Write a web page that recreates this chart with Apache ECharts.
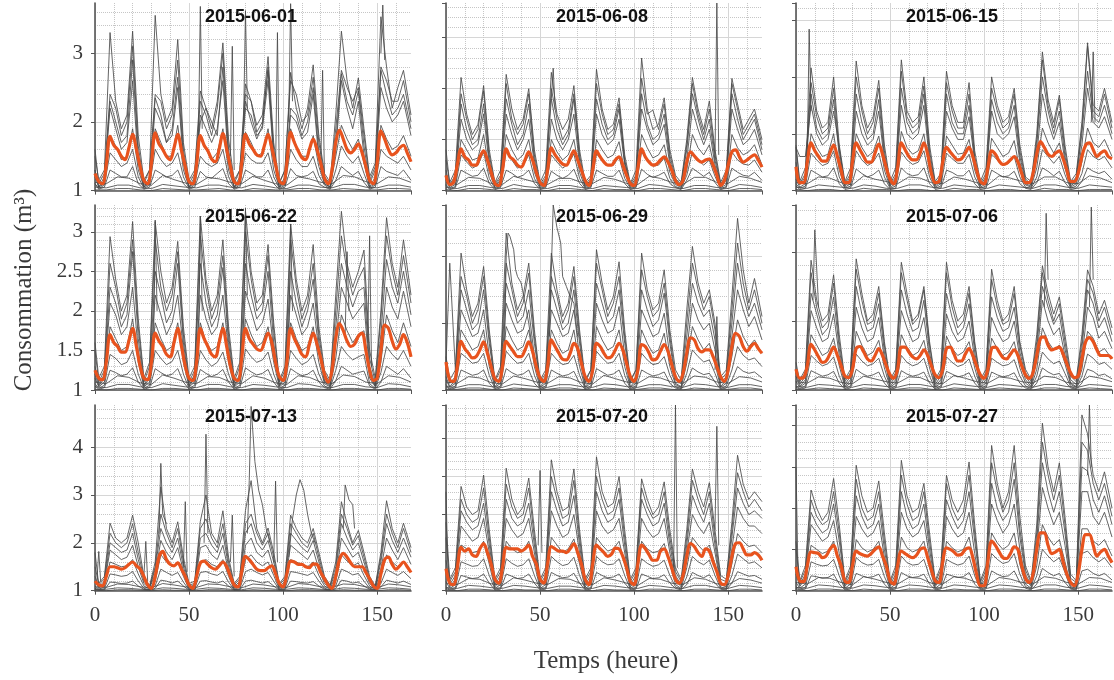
<!DOCTYPE html>
<html><head><meta charset="utf-8">
<script src="https://cdn.jsdelivr.net/npm/echarts@6/dist/echarts.min.js"></script>
<style>html,body{margin:0;padding:0;background:#fff}#c{width:1114px;height:680px}</style>
</head><body><div id="c"></div>
<script>
// ---------- shared x samples (hours) ----------
const hoursMean = [0,2,4,6,8,10,12,14,16,18,20,22,24,26,28,30,32,34,36,38,40,42,44,46,48,50,52,54,56,58,60,62,64,66,68,70,72,74,76,78,80,82,84,86,88,90,92,94,96,98,100,102,104,106,108,110,112,114,116,118,120,122,124,126,128,130,132,134,136,138,140,142,144,146,148,150,152,154,156,158,160,162,164,166,168];
const hoursGray = [0,2,5,8,11,14,17,20,23,26,29,32,35,38,41,44,47,50,53,56,59,62,65,68,71,74,77,80,83,86,89,92,95,98,101,104,107,110,113,116,119,122,125,128,131,134,137,140,143,146,149,152,155,158,161,164,168];
const hoursLow = [0,6,12,18,24,30,36,42,48,54,60,66,72,78,84,90,96,102,108,114,120,126,132,138,144,150,156,162,168];

const titles = ['2015-06-01','2015-06-08','2015-06-15','2015-06-22','2015-06-29','2015-07-06','2015-07-13','2015-07-20','2015-07-27'];
const yMax  = [3.73, 2.84, 2.65, 3.34, 3.77, 3.68, 4.88, 3.44, 3.25];
const yStep = [1, 0.5, 0.5, 0.5, 1, 1, 1, 0.5, 0.5];
const xTicks = [0, 50, 100, 150];

// ---------- Panel 1 : 2015-06-01 ----------
const p1Mean = [1.25,1.13,1.1,1.38,1.79,1.66,1.6,1.5,1.45,1.62,1.82,1.6, 1.35,1.15,1.1,1.4,1.84,1.68,1.6,1.5,1.45,1.62,1.82,1.58, 1.35,1.13,1.1,1.38,1.8,1.66,1.58,1.46,1.42,1.6,1.83,1.6, 1.35,1.13,1.1,1.4,1.82,1.68,1.6,1.52,1.5,1.65,1.82,1.62, 1.38,1.14,1.1,1.4,1.85,1.7,1.58,1.48,1.45,1.6,1.75,1.6, 1.4,1.18,1.1,1.3,1.7,1.88,1.75,1.6,1.55,1.6,1.68,1.55, 1.35,1.15,1.1,1.4,1.87,1.75,1.6,1.52,1.55,1.62,1.66,1.55, 1.42];
const p1Gray = [
 [1.5,1.15,1.3,3.3,2.3,1.9,2.1,3.32,1.8, 1.15,1.3,3.55,2.4,2.0,2.2,3.2,1.7, 1.15,1.3,2.45,2.2,1.9,2.3,3.15,1.75, 1.15,1.3,2.55,2.3,1.95,2.1,2.95,1.7, 1.12,1.3,2.72,2.2,1.9,2.2,2.83,1.8, 1.25,1.12,2.1,3.32,2.6,2.2,2.64,1.9, 1.2,1.4,3.53,2.8,2.2,2.5,2.75,2.1],
 [1.6,1.1,1.25,2.4,2.2,1.8,2.0,3.1,1.65, 1.1,1.3,2.4,2.3,1.9,2.1,2.9,1.6, 1.1,1.25,2.3,2.1,1.8,2.2,3.0,1.6, 1.1,1.3,2.4,2.3,1.85,2.0,2.75,1.6, 1.1,1.3,2.6,2.4,2.0,2.1,2.65,1.7, 1.2,1.1,1.9,2.75,2.5,2.3,2.5,1.8, 1.15,1.35,2.8,2.6,2.3,2.3,2.6,2.0],
 [1.3,1.05,1.2,2.3,2.0,1.7,1.8,2.9,1.5, 1.05,1.2,2.35,2.1,1.7,1.9,2.65,1.5, 1.05,1.2,2.0,2.2,2.0,1.8,2.8,1.5, 1.05,1.2,2.3,2.0,1.75,1.95,2.8,1.5, 1.05,1.2,2.2,2.1,1.8,2.0,2.5,1.55, 1.15,1.05,1.7,2.7,2.3,2.1,2.45,1.65, 1.1,1.3,2.75,2.4,2.1,2.2,2.4,1.9],
 [1.2,1.05,1.15,2.2,1.9,1.6,1.7,2.6,1.4, 1.05,1.15,2.2,2.0,1.7,1.8,2.5,1.4, 1.05,1.15,2.1,1.9,1.7,1.9,2.6,1.4, 1.05,1.15,2.2,2.1,1.8,1.9,2.6,1.45, 1.05,1.15,2.1,2.0,1.75,1.85,2.4,1.45, 1.1,1.05,1.6,2.6,2.2,1.9,2.3,1.5, 1.05,1.2,2.5,2.2,2.0,2.1,2.3,1.8],
 [1.3,1.05,1.1,1.8,1.65,1.45,1.5,1.9,1.3, 1.05,1.1,1.9,1.7,1.5,1.5,1.95,1.3, 1.05,1.1,1.8,1.6,1.45,1.55,1.9,1.3, 1.05,1.1,1.85,1.7,1.5,1.55,1.9,1.3, 1.05,1.1,1.9,1.65,1.5,1.5,1.8,1.35, 1.1,1.05,1.5,1.95,1.75,1.6,1.75,1.4, 1.05,1.1,1.95,1.75,1.6,1.65,1.8,1.5],
 [1.1,1.03,1.08,1.55,1.45,1.35,1.4,1.6,1.2, 1.03,1.08,1.6,1.45,1.35,1.4,1.55,1.2, 1.03,1.08,1.5,1.4,1.35,1.4,1.6,1.2, 1.03,1.08,1.55,1.45,1.4,1.4,1.55,1.2, 1.03,1.08,1.6,1.45,1.35,1.35,1.5,1.22, 1.08,1.03,1.3,1.65,1.5,1.4,1.5,1.25, 1.03,1.08,1.6,1.5,1.45,1.4,1.5,1.3],
 [1.1,1.02,1.05,1.3,1.25,1.2,1.2,1.35,1.1, 1.02,1.05,1.3,1.25,1.2,1.22,1.3,1.1, 1.02,1.05,1.28,1.2,1.18,1.25,1.32,1.1, 1.02,1.05,1.3,1.25,1.2,1.2,1.3,1.1, 1.02,1.05,1.32,1.22,1.2,1.22,1.28,1.1, 1.05,1.02,1.15,1.35,1.28,1.22,1.28,1.12, 1.02,1.05,1.35,1.28,1.25,1.22,1.3,1.15]
];
const p1Low = [
 [1.12,1.1,1.2,1.18, 1.1,1.08,1.22,1.16, 1.11,1.09,1.19,1.17, 1.12,1.1,1.21,1.15, 1.1,1.08,1.2,1.17, 1.12,1.1,1.22,1.2, 1.13,1.1,1.2,1.18, 1.12],
 [1.05,1.04,1.08,1.08, 1.04,1.03,1.09,1.07, 1.05,1.04,1.08,1.08, 1.05,1.04,1.09,1.07, 1.04,1.03,1.08,1.08, 1.05,1.04,1.09,1.09, 1.05,1.04,1.08,1.08, 1.05],
 [1.01,1.01,1.03,1.03, 1.01,1.0,1.03,1.02, 1.01,1.01,1.02,1.03, 1.01,1.0,1.03,1.02, 1.01,1.01,1.03,1.03, 1.01,1.01,1.03,1.02, 1.01,1.01,1.03,1.03, 1.02]
];
const p1Spikes = [
 [[55,1.8],[56,3.68],[57,1.9]], [[72,1.5],[73,3.1],[74,1.3]], [[79,2.0],[80,3.62],[81,2.2]], [[96,1.3],[97,3.3],[98,1.2]],
 [[103,2.0],[104,3.72],[105,2.3]], [[120,1.3],[121,2.75],[122,1.2]], [[152,3.0],[153,3.7],[154,2.9]]
];

// ---------- Panel 2 : 2015-06-08 ----------
const p2Mean = [1.15,1.06,1.08,1.25,1.41,1.33,1.3,1.25,1.25,1.33,1.39,1.3, 1.18,1.07,1.05,1.2,1.41,1.33,1.3,1.25,1.23,1.3,1.38,1.3, 1.18,1.08,1.05,1.2,1.42,1.35,1.3,1.26,1.25,1.32,1.39,1.3, 1.2,1.1,1.05,1.2,1.39,1.33,1.28,1.25,1.25,1.3,1.33,1.25, 1.15,1.07,1.05,1.22,1.41,1.33,1.28,1.25,1.26,1.3,1.33,1.28, 1.2,1.1,1.06,1.1,1.28,1.38,1.34,1.3,1.28,1.3,1.31,1.25, 1.15,1.05,1.1,1.25,1.38,1.4,1.33,1.28,1.3,1.33,1.35,1.3, 1.23];
const p2Gray = [
 [1.3,1.08,1.2,2.11,1.75,1.55,1.65,2.03,1.4, 1.08,1.2,2.14,1.8,1.6,1.7,2.0,1.4, 1.08,1.2,2.16,1.75,1.6,1.7,2.03,1.4, 1.08,1.15,2.19,1.8,1.6,1.65,1.91,1.35, 1.07,1.2,2.3,1.8,1.6,1.65,1.91,1.4, 1.15,1.08,1.5,2.11,1.8,1.6,1.88,1.4, 1.08,1.2,2.1,1.85,1.6,1.7,1.8,1.5],
 [1.4,1.06,1.15,1.95,1.7,1.5,1.6,1.98,1.35, 1.06,1.15,2.05,1.7,1.55,1.65,1.95,1.35, 1.06,1.15,2.0,1.7,1.5,1.6,1.95,1.35, 1.06,1.12,2.05,1.75,1.55,1.6,1.85,1.3, 1.06,1.15,2.1,1.75,1.79,1.6,1.85,1.35, 1.12,1.06,1.45,2.05,1.75,1.55,1.8,1.35, 1.06,1.15,2.05,1.8,1.55,1.65,1.75,1.45],
 [1.2,1.05,1.12,1.85,1.6,1.45,1.5,1.85,1.3, 1.05,1.12,1.9,1.65,1.45,1.55,1.85,1.3, 1.05,1.12,1.9,1.6,1.45,1.55,1.9,1.3, 1.05,1.1,1.9,1.65,1.5,1.55,1.8,1.28, 1.05,1.12,1.95,1.65,1.5,1.55,1.75,1.3, 1.1,1.05,1.4,1.95,1.7,1.5,1.7,1.3, 1.05,1.12,1.95,1.7,1.5,1.6,1.7,1.4],
 [1.15,1.04,1.1,1.7,1.5,1.4,1.45,1.75,1.25, 1.04,1.1,1.75,1.55,1.4,1.5,1.7,1.25, 1.04,1.1,1.7,1.5,1.4,1.5,1.75,1.25, 1.04,1.08,1.75,1.55,1.45,1.5,1.7,1.25, 1.04,1.1,1.8,1.6,1.45,1.5,1.65,1.25, 1.08,1.04,1.3,1.8,1.6,1.45,1.6,1.25, 1.04,1.1,1.8,1.6,1.45,1.5,1.6,1.35],
 [1.1,1.03,1.06,1.5,1.4,1.3,1.32,1.55,1.18, 1.03,1.06,1.55,1.4,1.3,1.35,1.5,1.18, 1.03,1.06,1.5,1.38,1.3,1.35,1.5,1.18, 1.03,1.06,1.5,1.4,1.32,1.35,1.48,1.18, 1.03,1.06,1.55,1.42,1.32,1.35,1.45,1.18, 1.06,1.03,1.2,1.55,1.42,1.35,1.45,1.2, 1.03,1.06,1.55,1.42,1.35,1.38,1.45,1.25],
 [1.06,1.02,1.04,1.35,1.28,1.22,1.25,1.38,1.12, 1.02,1.04,1.38,1.3,1.22,1.25,1.35,1.12, 1.02,1.04,1.35,1.28,1.22,1.26,1.36,1.12, 1.02,1.04,1.36,1.3,1.25,1.25,1.33,1.12, 1.02,1.04,1.38,1.3,1.24,1.25,1.32,1.12, 1.04,1.02,1.15,1.38,1.3,1.25,1.3,1.14, 1.02,1.04,1.38,1.3,1.26,1.25,1.3,1.18],
 [1.05,1.01,1.03,1.2,1.17,1.14,1.15,1.22,1.07, 1.01,1.03,1.2,1.17,1.13,1.15,1.2,1.07, 1.01,1.03,1.19,1.15,1.12,1.15,1.21,1.07, 1.01,1.03,1.2,1.17,1.14,1.14,1.2,1.07, 1.01,1.03,1.21,1.16,1.13,1.15,1.18,1.07, 1.03,1.01,1.1,1.22,1.18,1.14,1.18,1.08, 1.01,1.03,1.22,1.18,1.15,1.14,1.18,1.1]
];
const p2Low = [
 [1.08,1.06,1.13,1.12, 1.07,1.06,1.14,1.11, 1.08,1.06,1.12,1.12, 1.08,1.07,1.13,1.11, 1.07,1.06,1.14,1.12, 1.08,1.06,1.13,1.13, 1.08,1.07,1.14,1.12, 1.08],
 [1.03,1.02,1.05,1.05, 1.03,1.02,1.06,1.04, 1.03,1.02,1.05,1.05, 1.03,1.02,1.05,1.04, 1.03,1.02,1.06,1.05, 1.03,1.02,1.05,1.05, 1.03,1.02,1.06,1.05, 1.03],
 [1.01,1.0,1.02,1.02, 1.01,1.0,1.02,1.01, 1.01,1.0,1.02,1.02, 1.01,1.0,1.02,1.01, 1.01,1.0,1.02,1.02, 1.01,1.0,1.02,1.02, 1.01,1.0,1.02,1.02, 1.01]
];
const p2Spikes = [ [[143,1.3],[144,2.84],[145,1.35]], [[56,1.9],[57,2.2],[58,1.8]] ];

// ---------- Panel 3 : 2015-06-15 ----------
const p3Mean = [1.21,1.07,1.07,1.25,1.42,1.35,1.3,1.26,1.26,1.33,1.4,1.3, 1.18,1.07,1.07,1.25,1.42,1.36,1.3,1.25,1.25,1.33,1.41,1.32, 1.2,1.1,1.06,1.2,1.42,1.36,1.3,1.27,1.27,1.33,1.42,1.32, 1.15,1.07,1.08,1.25,1.38,1.34,1.3,1.27,1.28,1.33,1.38,1.3, 1.18,1.08,1.06,1.2,1.35,1.32,1.26,1.23,1.24,1.27,1.3,1.25, 1.15,1.07,1.07,1.15,1.32,1.43,1.38,1.32,1.3,1.33,1.35,1.28, 1.18,1.08,1.08,1.15,1.3,1.4,1.42,1.36,1.3,1.33,1.35,1.3, 1.28];
const p3Gray = [
 [1.4,1.08,1.2,2.08,1.7,1.55,1.6,2.0,1.4, 1.08,1.2,2.14,1.75,1.55,1.65,1.97,1.4, 1.08,1.2,2.15,1.7,1.6,1.65,2.0,1.4, 1.08,1.15,2.05,1.75,1.6,1.6,1.95,1.35, 1.08,1.2,2.0,1.75,1.6,1.65,1.9,1.4, 1.12,1.08,1.5,2.22,1.8,1.6,1.84,1.4, 1.08,1.15,1.6,2.3,1.75,1.7,1.9,1.6],
 [1.38,1.06,1.15,1.95,1.65,1.5,1.55,1.9,1.35, 1.06,1.15,2.0,1.7,1.5,1.6,1.9,1.35, 1.06,1.15,2.05,1.65,1.55,1.6,1.92,1.35, 1.06,1.12,1.95,1.7,1.55,1.55,1.85,1.3, 1.06,1.15,1.9,1.7,1.55,1.6,1.85,1.35, 1.1,1.06,1.45,2.15,1.75,1.55,1.8,1.35, 1.06,1.12,1.55,2.27,1.7,1.65,1.85,1.55],
 [1.25,1.05,1.12,1.85,1.55,1.45,1.5,1.8,1.3, 1.05,1.12,1.85,1.6,1.45,1.5,1.8,1.3, 1.05,1.12,1.9,1.6,1.5,1.55,1.85,1.3, 1.05,1.1,1.85,1.6,1.5,1.5,1.75,1.28, 1.05,1.12,1.8,1.6,1.5,1.55,1.75,1.3, 1.08,1.05,1.4,2.0,1.7,1.5,1.7,1.3, 1.05,1.1,1.5,2.05,1.65,1.6,1.75,1.5],
 [1.38,1.3,1.3,1.75,1.5,1.4,1.45,1.7,1.38, 1.04,1.1,1.7,1.5,1.4,1.45,1.7,1.25, 1.04,1.1,1.75,1.5,1.45,1.5,1.75,1.25, 1.04,1.08,1.7,1.55,1.45,1.45,1.65,1.25, 1.04,1.1,1.7,1.5,1.45,1.5,1.65,1.25, 1.06,1.04,1.3,1.85,1.6,1.45,1.6,1.25, 1.04,1.08,1.4,1.9,1.6,1.55,1.65,1.45],
 [1.1,1.03,1.06,1.5,1.38,1.3,1.32,1.5,1.18, 1.03,1.06,1.5,1.38,1.3,1.34,1.48,1.18, 1.03,1.06,1.52,1.38,1.32,1.35,1.5,1.18, 1.03,1.06,1.48,1.4,1.32,1.33,1.45,1.18, 1.03,1.06,1.46,1.38,1.3,1.33,1.44,1.18, 1.05,1.03,1.2,1.55,1.42,1.33,1.42,1.2, 1.03,1.06,1.25,1.55,1.42,1.38,1.45,1.3],
 [1.06,1.02,1.04,1.33,1.27,1.22,1.24,1.35,1.12, 1.02,1.04,1.35,1.27,1.22,1.25,1.33,1.12, 1.02,1.04,1.34,1.27,1.23,1.25,1.35,1.12, 1.02,1.04,1.33,1.28,1.24,1.24,1.32,1.12, 1.02,1.04,1.32,1.27,1.22,1.24,1.3,1.12, 1.03,1.02,1.12,1.36,1.3,1.24,1.3,1.14, 1.02,1.04,1.15,1.36,1.3,1.27,1.3,1.2],
 [1.04,1.01,1.02,1.18,1.15,1.12,1.13,1.2,1.06, 1.01,1.02,1.19,1.15,1.12,1.14,1.18,1.06, 1.01,1.02,1.2,1.15,1.13,1.14,1.2,1.06, 1.01,1.02,1.18,1.16,1.13,1.13,1.18,1.06, 1.01,1.02,1.18,1.15,1.12,1.13,1.17,1.06, 1.02,1.01,1.07,1.2,1.17,1.13,1.17,1.07, 1.01,1.02,1.08,1.2,1.17,1.15,1.17,1.1]
];
const p3Low = [
 [1.07,1.06,1.12,1.11, 1.07,1.05,1.13,1.1, 1.08,1.06,1.12,1.11, 1.07,1.06,1.12,1.1, 1.07,1.05,1.13,1.11, 1.08,1.06,1.12,1.12, 1.07,1.06,1.13,1.11, 1.07],
 [1.03,1.02,1.05,1.04, 1.03,1.02,1.05,1.04, 1.02,1.02,1.05,1.05, 1.03,1.02,1.05,1.04, 1.03,1.02,1.05,1.04, 1.03,1.02,1.05,1.05, 1.03,1.02,1.05,1.04, 1.03],
 [1.01,1.0,1.01,1.01, 1.0,1.0,1.02,1.01, 1.01,1.0,1.01,1.01, 1.0,1.0,1.02,1.01, 1.01,1.0,1.01,1.01, 1.0,1.0,1.02,1.01, 1.01,1.0,1.01,1.01, 1.01]
];
const p3Spikes = [ [[6,1.3],[7,2.42],[8,1.7]], [[157,1.6],[158,2.22],[159,1.6]] ];

// ---------- Panel 4 : 2015-06-22 ----------
const p4Mean = [1.25,1.15,1.13,1.35,1.7,1.6,1.55,1.48,1.48,1.62,1.78,1.55, 1.3,1.15,1.13,1.35,1.72,1.62,1.55,1.45,1.42,1.6,1.78,1.55, 1.3,1.15,1.12,1.35,1.78,1.65,1.55,1.45,1.42,1.6,1.78,1.55, 1.3,1.15,1.12,1.4,1.78,1.65,1.58,1.52,1.5,1.6,1.72,1.6, 1.35,1.17,1.12,1.35,1.78,1.65,1.55,1.45,1.42,1.58,1.72,1.58, 1.4,1.2,1.1,1.25,1.65,1.84,1.75,1.62,1.55,1.58,1.68,1.72, 1.5,1.25,1.12,1.15,1.5,1.82,1.78,1.62,1.52,1.58,1.7,1.6, 1.42];
const p4Gray = [
 [1.6,1.15,1.3,2.94,2.4,2.0,2.2,3.13,1.9, 1.15,1.35,3.13,2.5,2.1,2.3,2.88,1.8, 1.15,1.3,3.2,2.4,2.0,2.2,2.9,1.8, 1.15,1.35,3.26,2.5,2.1,2.2,2.84,1.85, 1.12,1.3,3.1,2.4,2.0,2.2,2.84,1.8, 1.25,1.12,2.2,3.26,2.6,2.3,2.5,2.77, 1.5,1.15,2.0,3.18,2.6,2.3,2.9,2.2],
 [1.5,1.1,1.25,2.6,2.3,1.9,2.1,2.9,1.8, 1.1,1.3,2.9,2.3,2.0,2.2,2.75,1.7, 1.1,1.25,2.95,2.3,1.9,2.1,2.7,1.7, 1.1,1.3,3.0,2.4,2.0,2.1,2.7,1.75, 1.1,1.25,2.9,2.3,1.9,2.1,2.6,1.7, 1.2,1.1,2.0,2.95,2.5,2.2,2.4,2.55, 1.4,1.1,1.9,2.95,2.5,2.2,2.7,2.1],
 [1.3,1.06,1.2,2.3,2.1,1.8,1.95,2.75,1.65, 1.06,1.2,2.5,2.2,1.85,2.0,2.6,1.6, 1.06,1.2,2.6,2.1,1.8,1.95,2.55,1.6, 1.06,1.2,2.6,2.2,1.9,2.0,2.5,1.6, 1.06,1.2,2.5,2.1,1.8,2.0,2.4,1.6, 1.12,1.06,1.8,2.6,2.3,2.05,2.25,2.3, 1.3,1.06,1.7,2.65,2.3,2.1,2.5,1.95],
 [1.2,1.05,1.15,2.1,1.95,1.7,1.8,2.3,1.5, 1.05,1.15,2.2,1.95,1.7,1.85,2.2,1.5, 1.05,1.15,2.2,1.9,1.7,1.8,2.2,1.5, 1.05,1.15,2.25,2.0,1.75,1.85,2.15,1.5, 1.05,1.15,2.2,1.95,1.7,1.8,2.1,1.5, 1.1,1.05,1.6,2.3,2.1,1.9,2.0,2.1, 1.2,1.05,1.5,2.3,2.05,1.9,2.25,1.8],
 [1.15,1.04,1.1,1.8,1.65,1.5,1.55,1.9,1.35, 1.04,1.1,1.85,1.65,1.5,1.55,1.85,1.35, 1.04,1.1,1.85,1.6,1.5,1.55,1.85,1.35, 1.04,1.1,1.9,1.7,1.55,1.6,1.8,1.35, 1.04,1.1,1.85,1.65,1.5,1.55,1.8,1.35, 1.08,1.04,1.4,1.95,1.75,1.6,1.7,1.75, 1.15,1.04,1.35,1.95,1.75,1.6,1.85,1.55],
 [1.08,1.02,1.06,1.45,1.4,1.32,1.35,1.5,1.2, 1.02,1.06,1.5,1.4,1.32,1.36,1.5,1.2, 1.02,1.06,1.5,1.38,1.3,1.35,1.48,1.2, 1.02,1.06,1.52,1.42,1.35,1.38,1.48,1.2, 1.02,1.06,1.5,1.4,1.32,1.36,1.45,1.2, 1.05,1.02,1.25,1.55,1.45,1.38,1.42,1.45, 1.08,1.02,1.22,1.55,1.45,1.38,1.5,1.3],
 [1.05,1.01,1.03,1.25,1.22,1.18,1.2,1.28,1.1, 1.01,1.03,1.27,1.22,1.18,1.2,1.27,1.1, 1.01,1.03,1.26,1.21,1.17,1.2,1.26,1.1, 1.01,1.03,1.28,1.23,1.19,1.21,1.26,1.1, 1.01,1.03,1.27,1.22,1.18,1.2,1.25,1.1, 1.03,1.01,1.12,1.3,1.25,1.2,1.22,1.24, 1.05,1.01,1.1,1.3,1.25,1.2,1.27,1.15]
];
const p4Low = [
 [1.1,1.08,1.18,1.16, 1.09,1.07,1.19,1.15, 1.1,1.08,1.17,1.16, 1.1,1.08,1.18,1.15, 1.09,1.07,1.18,1.16, 1.1,1.08,1.19,1.17, 1.1,1.08,1.18,1.16, 1.1],
 [1.04,1.03,1.07,1.07, 1.04,1.03,1.08,1.06, 1.04,1.03,1.07,1.07, 1.04,1.03,1.07,1.06, 1.04,1.03,1.08,1.07, 1.04,1.03,1.07,1.07, 1.04,1.03,1.08,1.07, 1.04],
 [1.01,1.0,1.02,1.02, 1.01,1.0,1.02,1.02, 1.01,1.0,1.02,1.02, 1.01,1.0,1.02,1.02, 1.01,1.0,1.02,1.02, 1.01,1.0,1.02,1.02, 1.01,1.0,1.02,1.02, 1.01]
];
const p4Spikes = [ [[31,1.4],[32,3.15],[33,2.0]], [[55,1.5],[56,3.2],[57,2.0]], [[79,1.6],[80,3.3],[81,2.2]], [[103,1.6],[104,3.1],[105,2.0]], [[133,1.7],[134,2.75],[135,2.0]], [[145,1.6],[146,2.95],[147,1.3]] ];

// ---------- Panel 5 : 2015-06-29 ----------
const p5Mean = [1.42,1.15,1.13,1.35,1.73,1.62,1.55,1.48,1.5,1.6,1.72,1.55, 1.35,1.17,1.13,1.35,1.73,1.65,1.57,1.5,1.5,1.6,1.72,1.58, 1.35,1.18,1.13,1.35,1.75,1.65,1.55,1.46,1.45,1.55,1.7,1.62, 1.4,1.2,1.13,1.3,1.7,1.65,1.55,1.48,1.5,1.6,1.7,1.6, 1.4,1.2,1.13,1.3,1.68,1.65,1.55,1.45,1.47,1.58,1.68,1.58, 1.38,1.2,1.13,1.25,1.55,1.78,1.75,1.62,1.57,1.6,1.6,1.5, 1.35,1.2,1.13,1.3,1.65,1.85,1.8,1.65,1.58,1.65,1.7,1.62, 1.55];
const p5Gray = [
 [1.5,1.15,1.3,3.05,2.5,2.1,2.3,2.85,1.9, 1.15,1.35,3.35,2.6,2.2,2.4,2.9,1.9, 1.15,1.3,3.05,2.5,2.1,2.3,2.85,1.9, 1.15,1.3,3.1,2.6,2.2,2.4,2.92,1.9, 1.15,1.3,3.05,2.5,2.2,2.3,2.8,1.9, 1.3,1.15,2.2,3.15,2.6,2.3,2.5,2.0, 1.2,1.3,2.4,3.57,2.8,2.3,2.67,2.1],
 [1.4,2.9,1.3,2.7,2.4,2.0,2.2,2.7,1.8, 1.12,1.3,2.9,2.5,2.1,2.3,2.75,1.8, 1.12,1.25,2.7,2.4,2.0,2.2,2.7,1.8, 1.12,1.3,2.9,2.5,2.1,2.3,2.7,1.8, 1.12,1.3,2.8,2.4,2.1,2.2,2.6,1.8, 1.2,1.12,2.0,2.9,2.5,2.2,2.4,1.9, 1.15,1.25,2.2,3.2,2.6,2.2,2.5,2.0],
 [1.3,1.1,1.2,2.5,2.2,1.9,2.0,2.5,1.7, 1.1,1.2,2.6,2.3,2.0,2.1,2.5,1.7, 1.1,1.2,2.5,2.2,1.9,2.0,2.5,1.7, 1.1,1.2,2.6,2.3,2.0,2.1,2.5,1.7, 1.1,1.2,2.5,2.2,1.95,2.05,2.45,1.7, 1.15,1.1,1.8,2.6,2.3,2.1,2.2,1.75, 1.1,1.2,2.0,2.9,2.4,2.1,2.3,1.9],
 [1.2,1.05,1.15,2.2,2.0,1.8,1.85,2.2,1.5, 1.05,1.15,2.3,2.05,1.85,1.9,2.2,1.5, 1.05,1.15,2.2,2.0,1.8,1.85,2.2,1.5, 1.05,1.15,2.3,2.05,1.85,1.9,2.25,1.5, 1.05,1.15,2.2,2.0,1.8,1.85,2.15,1.5, 1.1,1.05,1.6,2.3,2.05,1.9,2.0,1.6, 1.05,1.15,1.8,2.5,2.2,1.95,2.1,1.75],
 [1.15,1.04,1.1,1.9,1.75,1.6,1.65,1.9,1.35, 1.04,1.1,1.95,1.75,1.6,1.65,1.9,1.35, 1.04,1.1,1.9,1.7,1.55,1.6,1.9,1.35, 1.04,1.1,1.95,1.75,1.6,1.65,1.9,1.35, 1.04,1.1,1.9,1.7,1.55,1.6,1.85,1.35, 1.08,1.04,1.4,1.95,1.75,1.6,1.7,1.4, 1.04,1.1,1.5,2.05,1.8,1.65,1.75,1.55],
 [1.08,1.02,1.06,1.55,1.48,1.4,1.42,1.55,1.22, 1.02,1.06,1.58,1.48,1.4,1.42,1.55,1.22, 1.02,1.06,1.55,1.45,1.38,1.4,1.52,1.22, 1.02,1.06,1.58,1.48,1.4,1.42,1.55,1.22, 1.02,1.06,1.55,1.45,1.38,1.4,1.5,1.22, 1.05,1.02,1.25,1.6,1.5,1.42,1.45,1.25, 1.02,1.06,1.3,1.65,1.52,1.45,1.48,1.35],
 [1.05,1.01,1.03,1.3,1.26,1.22,1.24,1.3,1.1, 1.01,1.03,1.32,1.26,1.22,1.24,1.3,1.1, 1.01,1.03,1.3,1.25,1.21,1.23,1.28,1.1, 1.01,1.03,1.32,1.27,1.22,1.24,1.3,1.1, 1.01,1.03,1.3,1.25,1.21,1.23,1.27,1.1, 1.03,1.01,1.13,1.33,1.27,1.23,1.25,1.12, 1.01,1.03,1.15,1.35,1.28,1.25,1.27,1.18]
];
const p5Low = [
 [1.12,1.1,1.2,1.18, 1.11,1.09,1.21,1.17, 1.12,1.1,1.2,1.18, 1.11,1.09,1.22,1.17, 1.12,1.1,1.2,1.18, 1.12,1.1,1.21,1.19, 1.12,1.1,1.2,1.18, 1.12],
 [1.05,1.04,1.08,1.08, 1.05,1.04,1.09,1.07, 1.05,1.04,1.08,1.08, 1.05,1.04,1.09,1.08, 1.05,1.04,1.08,1.08, 1.05,1.04,1.09,1.08, 1.05,1.04,1.08,1.08, 1.05],
 [1.01,1.01,1.03,1.03, 1.01,1.0,1.03,1.02, 1.01,1.01,1.03,1.03, 1.01,1.0,1.03,1.02, 1.01,1.01,1.03,1.03, 1.01,1.0,1.03,1.02, 1.01,1.01,1.03,1.03, 1.01]
];
const p5Spikes = [
 [[31,1.5],[32,3.0],[33,3.35],[34,3.3],[36,3.1],[37,2.8],[38,2.7],[40,2.6],[42,2.3],[44,2.0],[46,1.6]],
 [[55,1.8],[57,3.77],[58,3.6],[59,3.43],[61,3.2],[62,2.7],[64,2.55],[66,2.4],[68,2.3],[70,1.8]],
 [[143,1.3],[144,2.1],[145,1.3]]
];

// ---------- Panel 6 : 2015-07-06 ----------
const p6Mean = [1.3,1.17,1.18,1.35,1.66,1.58,1.48,1.4,1.42,1.52,1.62,1.5, 1.35,1.2,1.18,1.3,1.6,1.63,1.55,1.45,1.42,1.5,1.6,1.5, 1.35,1.22,1.17,1.3,1.62,1.62,1.55,1.48,1.45,1.5,1.58,1.5, 1.35,1.22,1.18,1.3,1.6,1.62,1.52,1.42,1.42,1.52,1.6,1.5, 1.35,1.22,1.17,1.3,1.6,1.62,1.55,1.47,1.45,1.52,1.58,1.5, 1.35,1.22,1.17,1.25,1.5,1.75,1.77,1.65,1.58,1.6,1.62,1.52, 1.38,1.25,1.18,1.2,1.45,1.7,1.76,1.7,1.58,1.5,1.5,1.5, 1.45];
const p6Gray = [
 [1.3,1.15,1.3,2.88,2.3,2.0,2.1,2.67,1.8, 1.15,1.3,2.9,2.4,2.0,2.1,2.5,1.7, 1.15,1.3,2.85,2.4,2.0,2.1,2.5,1.7, 1.15,1.3,2.85,2.3,2.0,2.1,2.5,1.7, 1.15,1.3,2.75,2.3,2.0,2.1,2.5,1.7, 1.3,1.15,1.8,2.8,2.4,2.1,2.35,1.8, 1.25,1.15,1.8,2.74,2.5,2.1,2.3,1.9],
 [1.4,1.12,1.25,2.7,2.2,1.9,2.0,2.55,1.7, 1.12,1.25,2.75,2.3,1.95,2.0,2.4,1.65, 1.12,1.25,2.7,2.3,1.95,2.05,2.45,1.65, 1.12,1.25,2.7,2.2,1.9,2.0,2.4,1.65, 1.12,1.25,2.6,2.2,1.95,2.0,2.4,1.65, 1.25,1.12,1.7,2.7,2.3,2.0,2.25,1.7, 1.2,1.12,1.7,2.6,2.4,2.0,2.2,1.8],
 [1.25,1.08,1.2,2.4,2.1,1.8,1.9,2.35,1.6, 1.08,1.2,2.5,2.1,1.85,1.9,2.25,1.55, 1.08,1.2,2.45,2.1,1.85,1.9,2.3,1.55, 1.08,1.2,2.4,2.05,1.8,1.9,2.25,1.55, 1.08,1.2,2.35,2.05,1.85,1.9,2.2,1.55, 1.2,1.08,1.6,2.5,2.2,1.95,2.1,1.6, 1.15,1.08,1.6,2.45,2.25,1.9,2.05,1.7],
 [1.2,1.05,1.15,2.15,1.9,1.7,1.75,2.1,1.5, 1.05,1.15,2.2,1.9,1.7,1.75,2.05,1.45, 1.05,1.15,2.15,1.9,1.7,1.75,2.05,1.45, 1.05,1.15,2.1,1.85,1.7,1.75,2.0,1.45, 1.05,1.15,2.05,1.85,1.7,1.75,2.0,1.45, 1.15,1.05,1.45,2.3,2.0,1.8,1.9,1.5, 1.1,1.05,1.45,2.2,2.05,1.75,1.85,1.6],
 [1.12,1.04,1.1,1.8,1.65,1.5,1.55,1.75,1.35, 1.04,1.1,1.85,1.65,1.5,1.55,1.72,1.32, 1.04,1.1,1.8,1.62,1.5,1.55,1.72,1.32, 1.04,1.1,1.78,1.6,1.5,1.55,1.7,1.32, 1.04,1.1,1.75,1.6,1.5,1.55,1.7,1.32, 1.1,1.04,1.3,1.9,1.7,1.58,1.65,1.38, 1.08,1.04,1.3,1.85,1.75,1.55,1.6,1.45],
 [1.06,1.02,1.06,1.5,1.42,1.35,1.38,1.48,1.2, 1.02,1.06,1.52,1.42,1.35,1.38,1.46,1.2, 1.02,1.06,1.5,1.4,1.35,1.38,1.46,1.2, 1.02,1.06,1.48,1.4,1.34,1.37,1.45,1.2, 1.02,1.06,1.46,1.4,1.35,1.37,1.44,1.2, 1.06,1.02,1.2,1.55,1.45,1.38,1.42,1.24, 1.05,1.02,1.2,1.52,1.46,1.37,1.4,1.3],
 [1.04,1.01,1.03,1.28,1.24,1.2,1.22,1.27,1.1, 1.01,1.03,1.3,1.24,1.2,1.22,1.26,1.1, 1.01,1.03,1.28,1.23,1.2,1.22,1.26,1.1, 1.01,1.03,1.27,1.23,1.19,1.21,1.25,1.1, 1.01,1.03,1.26,1.22,1.19,1.21,1.25,1.1, 1.03,1.01,1.1,1.32,1.26,1.22,1.24,1.12, 1.03,1.01,1.1,1.3,1.27,1.21,1.23,1.16]
];
const p6Low = [
 [1.12,1.1,1.19,1.17, 1.11,1.09,1.2,1.16, 1.12,1.1,1.19,1.18, 1.11,1.09,1.21,1.17, 1.12,1.1,1.19,1.17, 1.12,1.1,1.2,1.18, 1.11,1.09,1.2,1.17, 1.12],
 [1.05,1.04,1.08,1.07, 1.05,1.04,1.08,1.07, 1.05,1.04,1.08,1.08, 1.05,1.04,1.09,1.07, 1.05,1.04,1.08,1.07, 1.05,1.04,1.08,1.08, 1.05,1.04,1.08,1.07, 1.05],
 [1.01,1.01,1.03,1.02, 1.01,1.0,1.03,1.02, 1.01,1.01,1.03,1.03, 1.01,1.0,1.03,1.02, 1.01,1.01,1.03,1.02, 1.01,1.0,1.03,1.03, 1.01,1.01,1.03,1.02, 1.01]
];
const p6Spikes = [ [[9,2.3],[10,3.32],[12,2.2]], [[132,2.2],[133,3.56],[134,2.6]], [[156,2.2],[157,3.65],[158,2.6]] ];

// ---------- Panel 7 : 2015-07-13 ----------
const p7Mean = [1.2,1.12,1.1,1.3,1.5,1.5,1.48,1.45,1.48,1.55,1.6,1.52, 1.45,1.3,1.12,1.05,1.3,1.7,1.82,1.65,1.55,1.52,1.58,1.45, 1.3,1.12,1.05,1.3,1.58,1.62,1.55,1.48,1.45,1.52,1.6,1.5, 1.3,1.12,1.08,1.4,1.72,1.65,1.55,1.45,1.42,1.42,1.48,1.52, 1.35,1.15,1.08,1.35,1.62,1.6,1.55,1.55,1.5,1.48,1.56,1.55, 1.38,1.25,1.12,1.05,1.3,1.65,1.78,1.7,1.58,1.5,1.5,1.5, 1.38,1.25,1.1,1.05,1.35,1.65,1.7,1.55,1.45,1.52,1.6,1.5, 1.38];
const p7Gray = [
 [1.5,1.15,1.3,2.41,2.1,2.0,2.1,2.58,2.0, 1.3,1.1,1.6,3.17,2.3,2.0,2.44,1.7, 1.15,1.2,2.45,3.0,2.2,2.0,2.67,1.7, 1.15,1.3,2.68,3.3,2.3,2.0,2.31,1.8, 1.15,1.3,2.58,2.3,2.1,2.0,2.3,1.8, 1.3,1.12,1.6,2.86,2.4,2.0,2.26,1.8, 1.3,1.1,1.8,2.88,2.3,2.0,2.41,1.9],
 [1.8,1.12,1.25,2.2,2.0,1.9,2.0,2.4,1.8, 1.25,1.08,1.5,2.6,2.2,1.9,2.3,1.6, 1.12,1.15,2.3,2.5,2.1,1.9,2.4,1.6, 1.12,1.25,2.4,2.6,2.2,1.95,2.2,1.7, 1.12,1.25,2.4,2.2,2.0,1.9,2.2,1.7, 1.25,1.1,1.5,2.6,2.3,1.95,2.15,1.7, 1.25,1.08,1.7,2.6,2.2,1.9,2.3,1.8],
 [1.3,1.08,1.2,2.0,1.9,1.8,1.85,2.2,1.65, 1.2,1.06,1.45,2.3,2.0,1.8,2.1,1.5, 1.08,1.12,2.1,2.2,1.95,1.8,2.2,1.5, 1.08,1.2,2.2,2.4,2.0,1.85,2.05,1.6, 1.08,1.2,2.2,2.05,1.9,1.8,2.05,1.6, 1.2,1.08,1.4,2.4,2.1,1.85,2.0,1.6, 1.2,1.06,1.6,2.4,2.05,1.8,2.1,1.7],
 [1.2,1.05,1.15,1.85,1.75,1.65,1.7,1.95,1.5, 1.15,1.05,1.35,2.05,1.8,1.65,1.9,1.4, 1.05,1.1,1.9,1.95,1.75,1.65,1.95,1.4, 1.05,1.15,1.95,2.1,1.8,1.7,1.85,1.45, 1.05,1.15,1.95,1.85,1.75,1.65,1.85,1.45, 1.15,1.05,1.3,2.1,1.9,1.7,1.8,1.45, 1.15,1.05,1.45,2.1,1.85,1.65,1.9,1.55],
 [1.1,1.03,1.08,1.6,1.55,1.5,1.52,1.65,1.35, 1.1,1.03,1.2,1.75,1.6,1.5,1.6,1.3, 1.03,1.06,1.6,1.65,1.55,1.5,1.65,1.3, 1.03,1.08,1.65,1.75,1.6,1.52,1.6,1.32, 1.03,1.08,1.65,1.6,1.55,1.5,1.6,1.32, 1.1,1.03,1.2,1.75,1.62,1.52,1.58,1.32, 1.1,1.03,1.3,1.75,1.6,1.5,1.62,1.4],
 [1.05,1.02,1.04,1.35,1.33,1.3,1.32,1.4,1.2, 1.05,1.02,1.1,1.45,1.38,1.32,1.38,1.18, 1.02,1.04,1.38,1.4,1.35,1.32,1.4,1.18, 1.02,1.04,1.4,1.45,1.38,1.33,1.38,1.2, 1.02,1.04,1.4,1.38,1.35,1.32,1.38,1.2, 1.05,1.02,1.1,1.45,1.4,1.33,1.36,1.2, 1.05,1.02,1.15,1.45,1.38,1.32,1.4,1.25],
 [1.03,1.01,1.02,1.18,1.17,1.15,1.16,1.2,1.1, 1.03,1.01,1.05,1.22,1.2,1.16,1.2,1.1, 1.01,1.02,1.2,1.21,1.18,1.16,1.2,1.1, 1.01,1.02,1.2,1.22,1.19,1.16,1.19,1.1, 1.01,1.02,1.2,1.19,1.17,1.16,1.19,1.1, 1.03,1.01,1.05,1.22,1.2,1.16,1.18,1.1, 1.03,1.01,1.08,1.22,1.19,1.16,1.2,1.13]
];
const p7Low = [
 [1.08,1.07,1.14,1.13, 1.08,1.06,1.15,1.12, 1.08,1.07,1.14,1.13, 1.08,1.06,1.14,1.12, 1.08,1.07,1.15,1.13, 1.08,1.07,1.14,1.13, 1.08,1.06,1.14,1.12, 1.08],
 [1.03,1.03,1.06,1.05, 1.03,1.02,1.06,1.05, 1.03,1.03,1.06,1.05, 1.03,1.02,1.06,1.05, 1.03,1.03,1.06,1.05, 1.03,1.02,1.06,1.05, 1.03,1.03,1.06,1.05, 1.03],
 [1.01,1.0,1.02,1.02, 1.01,1.0,1.02,1.01, 1.01,1.0,1.02,1.02, 1.01,1.0,1.02,1.01, 1.01,1.0,1.02,1.02, 1.01,1.0,1.02,1.01, 1.01,1.0,1.02,1.02, 1.01]
];
const p7Spikes = [
 [[1,1.2],[2,1.82],[3,1.2]], [[26,1.3],[27,2.03],[28,1.2]], [[34,2.2],[35,3.66],[36,2.6],[38,2.4]], [[47,1.5],[48,2.86],[49,1.4]],
 [[58,2.0],[59,4.27],[60,2.2]], [[72,1.6],[73,2.58],[74,1.3]], [[81,2.2],[82,3.3],[83,4.85],[85,3.7],[87,3.1],[89,2.8],[91,2.3],[93,2.0]],
 [[95,1.6],[96,3.29],[97,1.6]], [[103,1.7],[105,2.5],[107,3.0],[109,3.32],[111,3.1],[113,2.6],[115,2.2],[117,2.0]],
 [[132,2.3],[133,3.21],[135,2.9],[137,2.8],[138,2.3]]
];

// ---------- Panel 8 : 2015-07-20 ----------
const p8Mean = [1.29,1.1,1.08,1.3,1.57,1.52,1.55,1.47,1.45,1.55,1.62,1.5, 1.35,1.15,1.1,1.3,1.57,1.55,1.55,1.55,1.52,1.55,1.6,1.45, 1.35,1.15,1.1,1.35,1.58,1.55,1.52,1.52,1.5,1.55,1.62,1.5, 1.35,1.15,1.08,1.35,1.6,1.55,1.5,1.45,1.48,1.56,1.55,1.45, 1.3,1.12,1.08,1.35,1.6,1.55,1.47,1.4,1.4,1.52,1.55,1.45, 1.3,1.15,1.1,1.2,1.45,1.62,1.58,1.5,1.45,1.55,1.52,1.38, 1.25,1.1,1.08,1.2,1.45,1.62,1.63,1.55,1.47,1.47,1.5,1.47, 1.4];
const p8Gray = [
 [1.9,1.15,1.3,2.37,2.1,2.0,2.05,2.52,1.8, 1.15,1.3,2.61,2.2,2.0,2.1,2.48,1.8, 1.15,1.3,2.72,2.3,2.05,2.1,2.6,1.8, 1.15,1.3,2.76,2.3,2.1,2.15,2.5,1.8, 1.15,1.3,2.47,2.2,2.0,2.1,2.43,1.8, 1.3,1.15,1.8,2.6,2.3,2.1,2.42,1.8, 1.2,1.15,1.9,2.78,2.4,2.2,2.3,2.17],
 [1.7,1.12,1.25,2.2,2.0,1.9,1.95,2.35,1.7, 1.12,1.25,2.4,2.1,1.95,2.0,2.35,1.7, 1.12,1.25,2.5,2.2,1.95,2.0,2.45,1.7, 1.12,1.25,2.5,2.2,2.0,2.05,2.35,1.7, 1.12,1.25,2.35,2.1,1.95,2.0,2.3,1.7, 1.25,1.12,1.7,2.45,2.2,2.0,2.3,1.7, 1.15,1.12,1.8,2.55,2.3,2.1,2.2,2.05],
 [1.4,1.08,1.2,2.05,1.9,1.8,1.85,2.15,1.6, 1.08,1.2,2.2,1.95,1.85,1.9,2.15,1.6, 1.08,1.2,2.3,2.05,1.85,1.9,2.25,1.6, 1.08,1.2,2.3,2.05,1.9,1.95,2.2,1.6, 1.08,1.2,2.2,2.0,1.85,1.9,2.15,1.6, 1.2,1.08,1.6,2.25,2.05,1.9,2.15,1.6, 1.1,1.08,1.7,2.35,2.15,2.0,2.05,1.95],
 [1.25,1.05,1.15,1.85,1.75,1.65,1.7,1.95,1.5, 1.05,1.15,1.95,1.8,1.7,1.75,1.95,1.5, 1.05,1.15,2.05,1.85,1.7,1.75,2.0,1.5, 1.05,1.15,2.05,1.85,1.75,1.8,1.95,1.5, 1.05,1.15,1.95,1.8,1.7,1.75,1.95,1.5, 1.15,1.05,1.5,2.0,1.85,1.75,1.9,1.5, 1.08,1.05,1.55,2.1,1.95,1.85,1.85,1.75],
 [1.12,1.03,1.08,1.6,1.55,1.5,1.52,1.65,1.35, 1.03,1.08,1.65,1.55,1.5,1.52,1.65,1.35, 1.03,1.08,1.7,1.6,1.5,1.55,1.68,1.35, 1.03,1.08,1.7,1.6,1.52,1.55,1.65,1.35, 1.03,1.08,1.65,1.55,1.5,1.52,1.62,1.35, 1.08,1.03,1.3,1.7,1.6,1.52,1.6,1.35, 1.05,1.03,1.35,1.75,1.65,1.58,1.6,1.5],
 [1.05,1.02,1.04,1.38,1.35,1.32,1.33,1.42,1.2, 1.02,1.04,1.42,1.36,1.32,1.34,1.42,1.2, 1.02,1.04,1.45,1.38,1.33,1.35,1.44,1.2, 1.02,1.04,1.45,1.38,1.34,1.35,1.42,1.2, 1.02,1.04,1.42,1.36,1.32,1.34,1.4,1.2, 1.05,1.02,1.18,1.45,1.38,1.34,1.4,1.2, 1.03,1.02,1.2,1.48,1.42,1.36,1.38,1.3],
 [1.03,1.01,1.02,1.2,1.18,1.16,1.17,1.22,1.1, 1.01,1.02,1.22,1.19,1.16,1.17,1.22,1.1, 1.01,1.02,1.24,1.2,1.17,1.18,1.23,1.1, 1.01,1.02,1.24,1.2,1.17,1.18,1.22,1.1, 1.01,1.02,1.22,1.19,1.16,1.17,1.21,1.1, 1.03,1.01,1.08,1.24,1.2,1.17,1.21,1.1, 1.02,1.01,1.1,1.25,1.22,1.19,1.2,1.15]
];
const p8Low = [
 [1.1,1.08,1.16,1.15, 1.09,1.07,1.17,1.14, 1.1,1.08,1.16,1.15, 1.09,1.08,1.17,1.14, 1.1,1.07,1.16,1.15, 1.1,1.08,1.17,1.15, 1.09,1.08,1.16,1.14, 1.1],
 [1.04,1.03,1.07,1.06, 1.04,1.03,1.07,1.06, 1.04,1.03,1.06,1.06, 1.04,1.03,1.07,1.06, 1.04,1.03,1.07,1.06, 1.04,1.03,1.07,1.07, 1.04,1.03,1.07,1.06, 1.04],
 [1.01,1.0,1.02,1.02, 1.01,1.0,1.02,1.01, 1.01,1.0,1.02,1.02, 1.01,1.0,1.02,1.01, 1.01,1.0,1.02,1.02, 1.01,1.0,1.02,1.02, 1.01,1.0,1.02,1.02, 1.01]
];
const p8Spikes = [ [[0,2.3],[1,1.3],[2,1.15]], [[49,1.6],[50,2.58],[51,1.5]], [[121,1.3],[122,3.44],[123,1.3]], [[143,1.8],[144,3.16],[145,1.6]] ];

// ---------- Panel 9 : 2015-07-27 ----------
const p9Mean = [1.29,1.12,1.11,1.3,1.47,1.46,1.45,1.4,1.42,1.5,1.55,1.42, 1.3,1.12,1.1,1.3,1.48,1.45,1.43,1.42,1.45,1.5,1.53,1.42, 1.3,1.12,1.08,1.3,1.48,1.45,1.42,1.4,1.43,1.5,1.52,1.4, 1.25,1.12,1.1,1.35,1.52,1.5,1.47,1.43,1.44,1.5,1.52,1.4, 1.2,1.06,1.06,1.35,1.6,1.55,1.47,1.4,1.39,1.45,1.53,1.5, 1.3,1.15,1.1,1.2,1.5,1.7,1.7,1.55,1.45,1.47,1.5,1.35, 1.2,1.1,1.06,1.2,1.5,1.68,1.68,1.55,1.42,1.47,1.5,1.42, 1.34];
const p9Gray = [
 [1.6,1.12,1.3,2.22,2.0,1.85,1.95,2.36,1.8, 1.12,1.3,2.52,2.15,1.95,2.0,2.33,1.7, 1.12,1.3,2.58,2.15,1.95,2.0,2.3,1.7, 1.12,1.3,2.4,2.1,1.95,2.1,2.56,1.8, 1.12,1.3,2.76,2.3,2.0,2.2,2.76,1.9, 1.3,1.12,1.8,3.03,2.5,2.2,2.55,1.9, 1.2,1.12,3.13,2.9,2.4,2.2,2.44,2.0],
 [1.5,1.1,1.25,2.1,1.9,1.8,1.85,2.2,1.7, 1.1,1.25,2.35,2.0,1.85,1.9,2.2,1.6, 1.1,1.25,2.4,2.05,1.85,1.9,2.2,1.6, 1.1,1.25,2.3,2.0,1.85,1.95,2.4,1.7, 1.1,1.25,2.55,2.2,1.95,2.1,2.55,1.75, 1.25,1.1,1.7,2.8,2.4,2.1,2.4,1.8, 1.15,1.1,2.8,2.7,2.3,2.1,2.3,1.9],
 [1.3,1.07,1.2,1.95,1.8,1.7,1.75,2.05,1.6, 1.07,1.2,2.15,1.9,1.75,1.8,2.05,1.5, 1.07,1.2,2.2,1.9,1.75,1.8,2.05,1.5, 1.07,1.2,2.1,1.9,1.75,1.85,2.2,1.6, 1.07,1.2,2.3,2.0,1.85,1.95,2.35,1.65, 1.2,1.07,1.6,2.55,2.2,1.95,2.2,1.7, 1.1,1.07,2.5,2.45,2.1,1.95,2.15,1.8],
 [1.2,1.05,1.15,1.8,1.7,1.6,1.65,1.85,1.45, 1.05,1.15,1.9,1.75,1.65,1.7,1.85,1.4, 1.05,1.15,1.95,1.75,1.65,1.7,1.85,1.4, 1.05,1.15,1.9,1.75,1.65,1.7,1.95,1.45, 1.05,1.15,2.05,1.85,1.7,1.8,2.05,1.5, 1.15,1.05,1.5,2.25,2.0,1.8,1.95,1.55, 1.08,1.05,2.2,2.2,1.9,1.8,1.95,1.65],
 [1.1,1.03,1.08,1.55,1.5,1.45,1.48,1.6,1.3, 1.03,1.08,1.62,1.52,1.47,1.5,1.6,1.28, 1.03,1.08,1.65,1.52,1.47,1.5,1.6,1.28, 1.03,1.08,1.6,1.52,1.47,1.5,1.65,1.3, 1.03,1.08,1.7,1.58,1.5,1.55,1.7,1.32, 1.08,1.03,1.3,1.8,1.65,1.55,1.62,1.35, 1.05,1.03,1.75,1.75,1.6,1.55,1.62,1.42],
 [1.05,1.02,1.04,1.35,1.32,1.3,1.31,1.38,1.18, 1.02,1.04,1.4,1.34,1.31,1.32,1.38,1.17, 1.02,1.04,1.42,1.34,1.31,1.32,1.38,1.17, 1.02,1.04,1.38,1.34,1.31,1.33,1.42,1.18, 1.02,1.04,1.45,1.38,1.33,1.35,1.45,1.2, 1.05,1.02,1.18,1.5,1.42,1.35,1.4,1.22, 1.03,1.02,1.45,1.48,1.4,1.35,1.4,1.28],
 [1.03,1.01,1.02,1.18,1.17,1.15,1.16,1.2,1.08, 1.01,1.02,1.21,1.18,1.16,1.17,1.2,1.08, 1.01,1.02,1.22,1.18,1.16,1.17,1.2,1.08, 1.01,1.02,1.2,1.18,1.16,1.17,1.22,1.08, 1.01,1.02,1.24,1.2,1.17,1.18,1.24,1.1, 1.03,1.01,1.08,1.27,1.22,1.18,1.21,1.1, 1.02,1.01,1.24,1.26,1.21,1.18,1.21,1.13]
];
const p9Low = [
 [1.1,1.08,1.16,1.15, 1.1,1.07,1.17,1.14, 1.1,1.08,1.16,1.15, 1.09,1.08,1.17,1.15, 1.1,1.07,1.16,1.14, 1.1,1.08,1.17,1.15, 1.1,1.08,1.16,1.15, 1.1],
 [1.04,1.03,1.07,1.06, 1.04,1.03,1.07,1.06, 1.04,1.03,1.07,1.06, 1.04,1.03,1.07,1.06, 1.04,1.03,1.07,1.06, 1.04,1.03,1.07,1.07, 1.04,1.03,1.07,1.06, 1.04],
 [1.01,1.0,1.02,1.02, 1.01,1.0,1.02,1.01, 1.01,1.0,1.02,1.02, 1.01,1.0,1.02,1.01, 1.01,1.0,1.02,1.02, 1.01,1.0,1.02,1.02, 1.01,1.0,1.02,1.02, 1.01]
];
const p9Spikes = [ [[0,2.5],[1,1.3],[2,1.12]], [[155,2.4],[156,3.25],[157,2.5]] ];

// ---------- assembly ----------
const panels = [
 {mean:p1Mean, gray:p1Gray, low:p1Low, spikes:p1Spikes},
 {mean:p2Mean, gray:p2Gray, low:p2Low, spikes:p2Spikes},
 {mean:p3Mean, gray:p3Gray, low:p3Low, spikes:p3Spikes},
 {mean:p4Mean, gray:p4Gray, low:p4Low, spikes:p4Spikes},
 {mean:p5Mean, gray:p5Gray, low:p5Low, spikes:p5Spikes},
 {mean:p6Mean, gray:p6Gray, low:p6Low, spikes:p6Spikes},
 {mean:p7Mean, gray:p7Gray, low:p7Low, spikes:p7Spikes},
 {mean:p8Mean, gray:p8Gray, low:p8Low, spikes:p8Spikes},
 {mean:p9Mean, gray:p9Gray, low:p9Low, spikes:p9Spikes}
];

const colLeft = [95, 446, 796], panelW = 316;
const rowTop = [3, 205, 405], rowH = [187.6, 185, 185.7], titleY = [17, 217, 417];
const serif = '"Liberation Serif", "Times New Roman", serif';
const axisCol = '#555555';
const grayLine = {color:'#4a4a4a', width:1, opacity:0.85};

const grids = [], xAxes = [], yAxes = [], series = [], graphics = [];
panels.forEach((p, i) => {
  const r = Math.floor(i / 3), c = i % 3;
  grids.push({left: colLeft[c], top: rowTop[r], width: panelW, height: rowH[r]});
  // minor (dotted) axes first so they are painted below
  xAxes.push({gridIndex:i, type:'value', min:0, max:168, interval:10, position:'top',
    axisLine:{show:false}, axisTick:{show:false}, axisLabel:{show:false},
    splitLine:{show:true, showMaxLine:false, lineStyle:{color:'#c6c6c6', type:'dotted', width:1}}});
  xAxes.push({gridIndex:i, type:'value', min:0, max:168, interval:50, position:'bottom',
    axisLine:{show:true, onZero:false, lineStyle:{color:axisCol, width:1.6}},
    axisTick:{show:true, length:4, lineStyle:{color:axisCol}},
    axisLabel:{show: r === 2, fontFamily: serif, fontSize:21, color:'#3a3a3a', margin:14, showMaxLabel:false,
      formatter: v => xTicks.includes(v) ? String(v) : ''},
    splitLine:{show:true, showMaxLine:false, lineStyle:{color:'#d6d6d6', width:1}}});
  yAxes.push({gridIndex:i, type:'value', min:1, max:yMax[i], interval:yStep[i] / 5, position:'right',
    axisLine:{show:false}, axisTick:{show:false}, axisLabel:{show:false},
    splitLine:{show:true, showMaxLine:false, lineStyle:{color:'#c6c6c6', type:'dotted', width:1}}});
  yAxes.push({gridIndex:i, type:'value', min:1, max:yMax[i], interval:yStep[i], position:'left',
    axisLine:{show:true, onZero:false, lineStyle:{color:axisCol, width:1.6}},
    axisTick:{show:true, length:4, lineStyle:{color:axisCol}},
    axisLabel:{show: c === 0, fontFamily: serif, fontSize:21, color:'#3a3a3a', margin:12, showMaxLabel:false},
    splitLine:{show:true, showMaxLine:false, lineStyle:{color:'#d6d6d6', width:1}}});
  const xi = 2 * i + 1, yi = 2 * i + 1;
  const base = {type:'line', xAxisIndex:xi, yAxisIndex:yi, symbol:'none', silent:true, animation:false};
  p.low.forEach(arr => series.push(Object.assign({}, base, {data: hoursLow.map((h, k) => [h, arr[k]]), lineStyle:grayLine, z:2})));
  p.gray.forEach(arr => series.push(Object.assign({}, base, {data: hoursGray.map((h, k) => [h, arr[k]]), lineStyle:grayLine, z:2})));
  p.spikes.forEach(pts => series.push(Object.assign({}, base, {data: pts, lineStyle:grayLine, z:2})));
  series.push(Object.assign({}, base, {data: hoursMean.map((h, k) => [h, p.mean[k]]), smooth:0.35,
    lineStyle:{color:'#e8531e', width:3.2}, z:5}));
  graphics.push({type:'text', x: colLeft[c] + panelW / 2 - 2, y: titleY[r], z:100,
    style:{text: titles[i], font:'bold 18px "Liberation Sans", Arial, sans-serif', fill:'#111', align:'center', verticalAlign:'middle'}});
});
graphics.push({type:'text', x:24, y:290, rotation:Math.PI / 2, z:100,
  style:{text:'Consommation (m³)', font:'25px ' + serif, fill:'#3a3a3a', align:'center', verticalAlign:'middle'}});
graphics.push({type:'text', x:606, y:661, z:100,
  style:{text:'Temps (heure)', font:'25px ' + serif, fill:'#3a3a3a', align:'center', verticalAlign:'middle'}});

const chart = echarts.init(document.getElementById('c'), null, {renderer:'canvas', width:1114, height:680});
chart.setOption({
  animation:false,
  backgroundColor:'#ffffff',
  grid: grids, xAxis: xAxes, yAxis: yAxes, series: series, graphic: graphics
});
</script></body></html>
